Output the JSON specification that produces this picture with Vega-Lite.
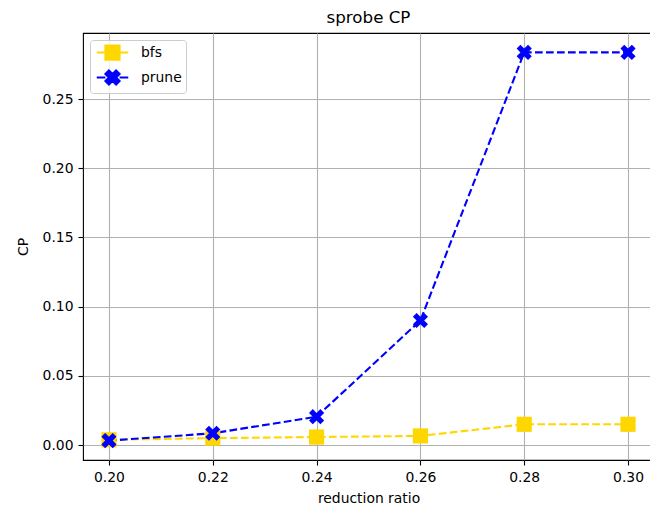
{
  "$schema": "https://vega.github.io/schema/vega-lite/v6.json",
  "width": 571,
  "height": 427,
  "padding": {"left": 16, "top": 10, "right": 0, "bottom": 5},
  "background": "white",
  "title": {"text": "sprobe CP", "fontSize": 16.7, "font": "DejaVu Sans", "fontWeight": "normal", "color": "black", "offset": 6, "anchor": "middle"},
  "data": {
    "values": [
      {"ratio": 0.20, "series": "bfs", "cp": 0.0038},
      {"ratio": 0.22, "series": "bfs", "cp": 0.005},
      {"ratio": 0.24, "series": "bfs", "cp": 0.0058},
      {"ratio": 0.26, "series": "bfs", "cp": 0.0066},
      {"ratio": 0.28, "series": "bfs", "cp": 0.015},
      {"ratio": 0.30, "series": "bfs", "cp": 0.015},
      {"ratio": 0.20, "series": "prune", "cp": 0.0032},
      {"ratio": 0.22, "series": "prune", "cp": 0.0085},
      {"ratio": 0.24, "series": "prune", "cp": 0.0205},
      {"ratio": 0.26, "series": "prune", "cp": 0.090},
      {"ratio": 0.28, "series": "prune", "cp": 0.2837},
      {"ratio": 0.30, "series": "prune", "cp": 0.2837}
    ]
  },
  "encoding": {
    "x": {
      "field": "ratio", "type": "quantitative",
      "scale": {"domain": [0.195, 0.305], "nice": false, "zero": false},
      "axis": {"title": "reduction ratio", "format": ".2f", "values": [0.2, 0.22, 0.24, 0.26, 0.28, 0.3], "titlePadding": 8}
    },
    "y": {
      "field": "cp", "type": "quantitative",
      "scale": {"domain": [-0.0108, 0.2977], "nice": false, "zero": false},
      "axis": {"title": "CP", "format": ".2f", "values": [0, 0.05, 0.1, 0.15, 0.2, 0.25], "titlePadding": 12}
    },
    "color": {"field": "series", "type": "nominal", "title": null, "scale": {"domain": ["bfs", "prune"], "range": ["#FFD700", "#0000FF"]}}
  },
  "layer": [
    {
      "mark": {"type": "line", "strokeDash": [7.7, 3.3], "strokeWidth": 2.1}
    },
    {
      "transform": [{"filter": "datum.series === 'bfs'"}],
      "mark": {"type": "point", "filled": true, "opacity": 1, "size": 230, "shape": "square"}
    },
    {
      "transform": [{"filter": "datum.series === 'prune'"}],
      "mark": {"type": "point", "filled": true, "opacity": 1, "size": 230, "shape": "M-1,-0.5L-0.5,-1L0,-0.5L0.5,-1L1,-0.5L0.5,0L1,0.5L0.5,1L0,0.5L-0.5,1L-1,0.5L-0.5,0Z"}
    },
    {
      "mark": {"type": "point", "filled": true, "size": 0},
      "encoding": {
        "shape": {"field": "series", "type": "nominal", "title": null, "scale": {"domain": ["bfs", "prune"], "range": ["M-2.1,0H-0.95M0.95,0H2.1M-0.95,-0.95H0.95V0.95H-0.95Z", "M-2.1,0H-0.95M0.95,0H2.1M-0.95,-0.48L-0.48,-0.95L0,-0.48L0.48,-0.95L0.95,-0.48L0.48,0L0.95,0.48L0.48,0.95L0,0.48L-0.48,0.95L-0.95,0.48L-0.48,0Z"]}},
        "stroke": {"field": "series", "type": "nominal", "title": null, "scale": {"domain": ["bfs", "prune"], "range": ["#FFD700", "#0000FF"]}}
      }
    }
  ],
  "config": {
    "view": {"stroke": "black", "strokeWidth": 1.1},
    "legend": {
      "orient": "top-left", "offset": 7, "padding": 4,
      "fillColor": "rgba(255,255,255,0.8)", "strokeColor": "#cccccc", "cornerRadius": 3,
      "labelFont": "DejaVu Sans", "labelFontSize": 13.9, "labelColor": "black",
      "symbolSize": 225, "symbolOffset": 10, "labelOffset": 20, "rowPadding": 2,
      "symbolStrokeWidth": 2, "symbolOpacity": 1
    },
    "axis": {
      "domain": false, "grid": true, "gridColor": "#b0b0b0", "gridWidth": 1.1, "gridOpacity": 1,
      "tickColor": "black", "tickWidth": 1.1, "tickSize": 5, "labelPadding": 5,
      "labelFont": "DejaVu Sans", "labelFontSize": 13.9, "labelColor": "black",
      "titleFont": "DejaVu Sans", "titleFontSize": 13.9, "titleFontWeight": "normal", "titleColor": "black"
    }
  }
}
